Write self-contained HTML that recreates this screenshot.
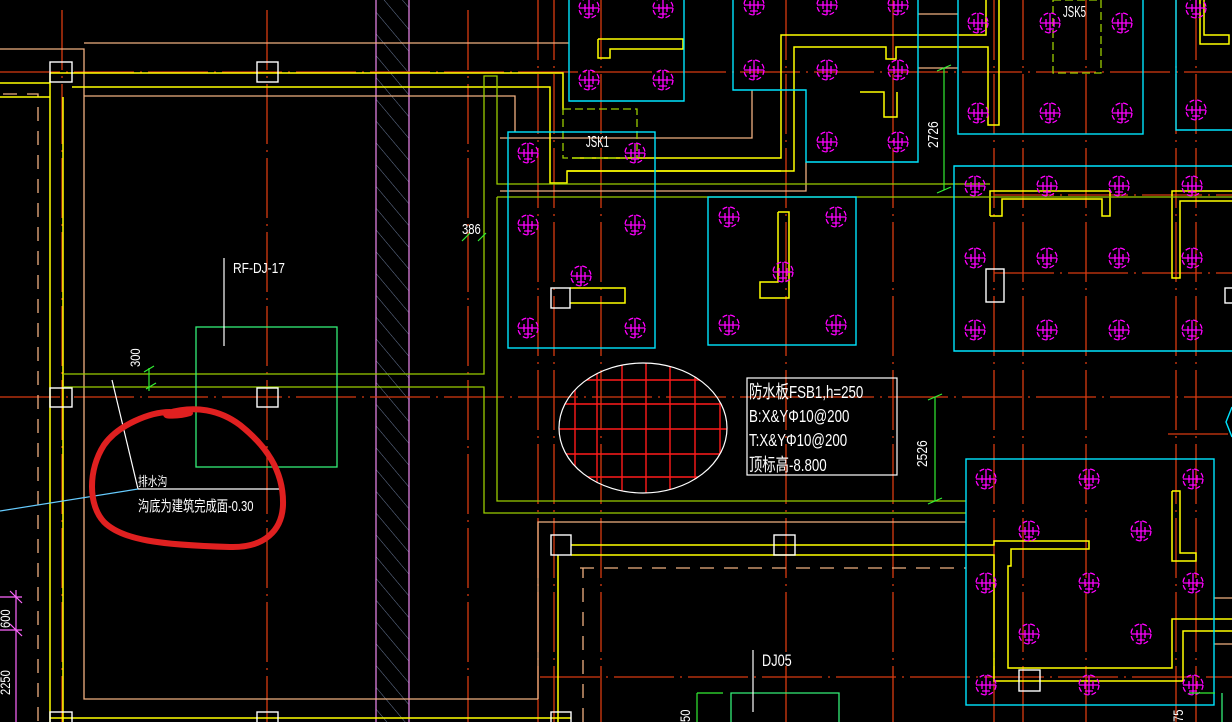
<!DOCTYPE html>
<html><head><meta charset="utf-8"><style>
html,body{margin:0;padding:0;background:#000;width:1232px;height:722px;overflow:hidden}
svg{display:block}
text{font-family:"Liberation Sans","Noto Sans CJK SC",sans-serif;fill:#fff}
</style></head><body>
<svg width="1232" height="722" viewBox="0 0 1232 722" xmlns="http://www.w3.org/2000/svg">
<defs>
<g id="p" fill="none" stroke="#ff00ff" stroke-width="1.3">
<circle r="10" stroke-dasharray="5 3"/>
<path d="M-10 0H10M0 -10V10M-4 -4V4M4 -4V4M-4 6H4"/>
</g>
<pattern id="h" width="14" height="14" patternUnits="userSpaceOnUse" patternTransform="rotate(-40)">
<line x1="0" y1="0" x2="0" y2="14" stroke="#6a7a9a" stroke-width="1"/>
</pattern>
</defs>
<rect width="1232" height="722" fill="#000"/>

<rect x="376" y="0" width="33" height="722" fill="url(#h)"/>
<g stroke="#ee88ee" stroke-width="1.2"><line x1="376" y1="0" x2="376" y2="722"/><line x1="409" y1="0" x2="409" y2="722"/></g>

<g stroke="#d83a10" stroke-width="1.3" fill="none" stroke-dasharray="60 6 2 6">
<line x1="0" y1="72" x2="1232" y2="72"/>
<line x1="0" y1="397" x2="1232" y2="397"/>
<line x1="540" y1="677" x2="1232" y2="677"/>
<line x1="994" y1="195" x2="1232" y2="195"/>
<line x1="994" y1="273" x2="1232" y2="273"/>
<line x1="1168" y1="434" x2="1232" y2="434"/>
<line x1="62" y1="10" x2="62" y2="722"/>
<line x1="267" y1="10" x2="267" y2="722"/>
<line x1="468" y1="10" x2="468" y2="722"/>
<line x1="538" y1="0" x2="538" y2="722"/>
<line x1="554" y1="0" x2="554" y2="722"/>
<line x1="601" y1="0" x2="601" y2="722"/>
<line x1="786" y1="0" x2="786" y2="722"/>
<line x1="893" y1="0" x2="893" y2="722"/>
<line x1="994" y1="0" x2="994" y2="722"/>
<line x1="1023" y1="0" x2="1023" y2="722"/>
<line x1="1086" y1="0" x2="1086" y2="722"/>
<line x1="1176" y1="0" x2="1176" y2="722"/>
<line x1="1196" y1="0" x2="1196" y2="722"/>
</g>

<g stroke="#f0b080" stroke-width="1.3" fill="none">
<polyline points="0,49 84,49 84,699 538,699"/>
<line x1="84" y1="43" x2="569" y2="43"/>
<polyline points="84,96 515,96 515,132"/>
<polyline points="538,699 538,522 966,522"/>
<polyline points="500,138 752,138 752,90"/>
<polyline points="500,191 806,191 806,162"/>
<line x1="918" y1="14" x2="958" y2="14"/>
<line x1="918" y1="68" x2="958" y2="68"/>
<line x1="1214" y1="598" x2="1232" y2="598"/>
<line x1="1214" y1="644" x2="1232" y2="644"/>
</g>
<g stroke="#f0b080" stroke-width="1.3" fill="none" stroke-dasharray="14 10">
<polyline points="3,94 38,94 38,722"/>
<polyline points="580,568 966,568"/>
<polyline points="583,722 583,568"/>
</g>

<g stroke="#ffff00" stroke-width="1.5" fill="none">
<line x1="0" y1="83" x2="50" y2="83"/><line x1="0" y1="97" x2="50" y2="97"/>
<polyline points="50,73 563,73 563,110"/>
<polyline points="72,87 550,87 550,183 567,183 567,171 781,171"/>
<line x1="50" y1="73" x2="50" y2="722"/><line x1="63" y1="97" x2="63" y2="722"/>
<polyline points="572,158 781,158 781,35 986,35 986,0"/>
<polyline points="567,171 794,171 794,47 886,47 886,59 896,59 896,47 988,47 988,125 999,125 999,0"/>
<polyline points="598,39 683,39 683,49 610,49 610,58 598,58 598,39"/>
<polyline points="860,92 884,92 884,117 897,117 897,92"/>
<polyline points="1204,0 1204,35 1229,35 1229,44 1200,44 1200,0"/>
<polyline points="570,288 625,288 625,303 570,303"/>
<polyline points="778,212 789,212 789,298 760,298 760,282 778,282 778,212"/>
<polyline points="990,216 990,191 1110,191 1110,216 1102,216 1102,199 1002,199 1002,216 990,216"/>
<polyline points="1232,191 1172,191 1172,278 1180,278 1180,201 1232,201"/>
<polyline points="571,545 994,545 994,541 1089,541 1089,549 1011,549 1011,566 1008,566 1008,668 1172,668 1172,619 1232,619"/>
<polyline points="571,555 994,555 994,681 1183,681 1183,631 1232,631"/>
<polyline points="1172,491 1180,491 1180,553 1196,553 1196,561 1172,561 1172,491"/>
<line x1="558" y1="555" x2="558" y2="722"/>
<line x1="50" y1="718" x2="571" y2="718"/>
</g>

<g stroke="#99cc00" stroke-width="1.3" fill="none">
<polyline points="63,374 484,374 484,76 497,76 497,184 990,184"/>
<polyline points="63,387 484,387 484,513 966,513"/>
<polyline points="497,197 1232,197"/>
<polyline points="497,197 497,501 966,501"/>
</g>
<g stroke="#99cc00" stroke-width="1.3" fill="none" stroke-dasharray="8 4">
<rect x="563" y="109" width="74" height="49"/>
<rect x="1053" y="0" width="48" height="73"/>
</g>

<g stroke="#00e5ff" stroke-width="1.4" fill="none">
<rect x="508" y="132" width="147" height="216"/>
<polyline points="569,0 569,101 684,101 684,0"/>
<polyline points="733,0 733,90 806,90 806,162 918,162 918,0"/>
<rect x="958" y="-2" width="185" height="136"/>
<polyline points="1176,0 1176,130 1232,130"/>
<rect x="708" y="197" width="148" height="148"/>
<polyline points="1232,166 954,166 954,351 1232,351"/>
<rect x="966" y="459" width="248" height="246"/>
<polyline points="1232,407 1226,422 1232,437"/>
</g>

<g stroke="#33ee77" stroke-width="1.3" fill="none">
<rect x="196" y="327" width="141" height="140"/>
<polyline points="731,722 731,693 839,693 839,722"/>
<line x1="1222" y1="693" x2="1222" y2="722"/>
</g>

<g stroke="#fff" stroke-width="1.4" fill="none">
<rect x="50" y="62" width="22" height="20"/><rect x="257" y="62" width="21" height="20"/>
<rect x="50" y="388" width="22" height="19"/><rect x="257" y="388" width="21" height="19"/>
<rect x="50" y="712" width="22" height="14"/><rect x="257" y="712" width="21" height="14"/>
<rect x="551" y="712" width="20" height="14"/>
<rect x="551" y="288" width="19" height="20"/>
<rect x="551" y="535" width="20" height="20"/><rect x="774" y="535" width="21" height="20"/>
<rect x="1019" y="670" width="21" height="21"/>
<rect x="986" y="269" width="18" height="33"/>
<rect x="1225" y="288" width="10" height="15"/>
</g>

<g>
<use href="#p" x="589" y="8"/><use href="#p" x="589" y="80"/>
<use href="#p" x="663" y="8"/><use href="#p" x="663" y="80"/>
<use href="#p" x="754" y="5"/><use href="#p" x="827" y="5"/><use href="#p" x="898" y="5"/>
<use href="#p" x="754" y="70"/><use href="#p" x="827" y="70"/><use href="#p" x="898" y="70"/>
<use href="#p" x="827" y="142"/><use href="#p" x="898" y="142"/>
<use href="#p" x="528" y="153"/><use href="#p" x="635" y="153"/>
<use href="#p" x="528" y="225"/><use href="#p" x="635" y="225"/><use href="#p" x="581" y="276"/>
<use href="#p" x="528" y="328"/><use href="#p" x="635" y="328"/>
<use href="#p" x="729" y="217"/><use href="#p" x="836" y="217"/><use href="#p" x="783" y="272"/>
<use href="#p" x="729" y="325"/><use href="#p" x="836" y="325"/>
<use href="#p" x="978" y="23"/><use href="#p" x="1050" y="23"/><use href="#p" x="1122" y="23"/>
<use href="#p" x="978" y="113"/><use href="#p" x="1050" y="113"/><use href="#p" x="1122" y="113"/>
<use href="#p" x="1196" y="8"/><use href="#p" x="1196" y="110"/>
<use href="#p" x="975" y="186"/><use href="#p" x="1047" y="186"/><use href="#p" x="1119" y="186"/><use href="#p" x="1192" y="186"/>
<use href="#p" x="975" y="258"/><use href="#p" x="1047" y="258"/><use href="#p" x="1119" y="258"/><use href="#p" x="1192" y="258"/>
<use href="#p" x="975" y="330"/><use href="#p" x="1047" y="330"/><use href="#p" x="1119" y="330"/><use href="#p" x="1192" y="330"/>
<use href="#p" x="986" y="479"/><use href="#p" x="1089" y="479"/><use href="#p" x="1193" y="479"/>
<use href="#p" x="1029" y="531"/><use href="#p" x="1141" y="531"/>
<use href="#p" x="986" y="583"/><use href="#p" x="1089" y="583"/><use href="#p" x="1193" y="583"/>
<use href="#p" x="1029" y="634"/><use href="#p" x="1141" y="634"/>
<use href="#p" x="986" y="685"/><use href="#p" x="1089" y="685"/><use href="#p" x="1193" y="685"/>
</g>

<clipPath id="ec"><ellipse cx="643" cy="428" rx="84" ry="65"/></clipPath>
<g clip-path="url(#ec)" stroke="#ff1a1a" stroke-width="1.4">
<line x1="575" y1="360" x2="575" y2="500"/><line x1="597" y1="360" x2="597" y2="500"/>
<line x1="622" y1="360" x2="622" y2="500"/><line x1="646" y1="360" x2="646" y2="500"/>
<line x1="670" y1="360" x2="670" y2="500"/><line x1="695" y1="360" x2="695" y2="500"/>
<line x1="720" y1="360" x2="720" y2="500"/>
<line x1="555" y1="380" x2="730" y2="380"/><line x1="555" y1="404" x2="730" y2="404"/>
<line x1="555" y1="429" x2="730" y2="429"/><line x1="555" y1="454" x2="730" y2="454"/>
<line x1="555" y1="477" x2="730" y2="477"/>
</g>
<ellipse cx="643" cy="428" rx="84" ry="65" fill="none" stroke="#fff" stroke-width="1.2"/>

<g stroke="#33ee33" stroke-width="1.2">
<line x1="944" y1="68" x2="944" y2="190"/><line x1="937" y1="71" x2="951" y2="65"/><line x1="937" y1="193" x2="951" y2="187"/>
<line x1="935" y1="397" x2="935" y2="501"/><line x1="928" y1="400" x2="942" y2="394"/><line x1="928" y1="504" x2="942" y2="498"/>
<line x1="462" y1="241" x2="470" y2="233"/><line x1="478" y1="241" x2="486" y2="233"/>
<line x1="144" y1="372" x2="154" y2="366"/><line x1="146" y1="389" x2="156" y2="383"/><line x1="149" y1="368" x2="149" y2="391"/>
<line x1="697" y1="693" x2="723" y2="693"/><line x1="697" y1="693" x2="697" y2="722"/>
<line x1="1189" y1="693" x2="1215" y2="693"/>
</g>
<g stroke="#ff66ff" stroke-width="1.2">
<line x1="16" y1="590" x2="16" y2="722"/><line x1="0" y1="597" x2="22" y2="597"/><line x1="0" y1="630" x2="22" y2="630"/>
<line x1="10" y1="591" x2="22" y2="603"/><line x1="10" y1="624" x2="22" y2="636"/>
</g>

<g stroke="#fff" stroke-width="1.2">
<line x1="224" y1="258" x2="224" y2="346"/>
<line x1="112" y1="380" x2="138" y2="489"/>
<line x1="138" y1="489" x2="284" y2="489"/>
<line x1="753" y1="650" x2="753" y2="712"/>
</g>
<line x1="0" y1="511" x2="138" y2="489" stroke="#66ccff" stroke-width="1.2"/>
<rect x="747" y="378" width="150" height="97" fill="none" stroke="#fff" stroke-width="1.2"/>

<g font-size="15">
<text x="233" y="273" transform="translate(233 0) scale(0.8 1) translate(-233 0)">RF-DJ-17</text>
<text x="586" y="147" font-size="16" transform="translate(586 0) scale(0.6 1) translate(-586 0)">JSK1</text>
<text x="1063" y="17" font-size="16" transform="translate(1063 0) scale(0.6 1) translate(-1063 0)">JSK5</text>
<text x="462" y="234" transform="translate(462 0) scale(0.75 1) translate(-462 0)">386</text>
<text x="762" y="666" font-size="17" transform="translate(762 0) scale(0.75 1) translate(-762 0)">DJ05</text>
<text x="138" y="486" font-size="13" transform="translate(138 0) scale(0.75 1) translate(-138 0)">排水沟</text>
<text x="138" y="511" font-size="15" transform="translate(138 0) scale(0.75 1) translate(-138 0)">沟底为建筑完成面-0.30</text>
<g font-size="18">
<text x="749" y="398" transform="translate(749 0) scale(0.74 1) translate(-749 0)">防水板FSB1,h=250</text>
<text x="749" y="422" transform="translate(749 0) scale(0.74 1) translate(-749 0)">B:X&amp;YΦ10@200</text>
<text x="749" y="446" transform="translate(749 0) scale(0.74 1) translate(-749 0)">T:X&amp;YΦ10@200</text>
<text x="749" y="471" transform="translate(749 0) scale(0.74 1) translate(-749 0)">顶标高-8.800</text>
</g>
<text transform="translate(938 148) rotate(-90) scale(0.8 1)" font-size="15">2726</text>
<text transform="translate(927 467) rotate(-90) scale(0.8 1)" font-size="15">2526</text>
<text transform="translate(140 367) rotate(-90) scale(0.8 1)" font-size="14">300</text>
<text transform="translate(10 628) rotate(-90) scale(0.8 1)" font-size="14">600</text>
<text transform="translate(10 695) rotate(-90) scale(0.8 1)" font-size="14">2250</text>
<text transform="translate(690 722) rotate(-90) scale(0.8 1)" font-size="14">50</text>
<text transform="translate(1183 722) rotate(-90) scale(0.8 1)" font-size="14">75</text>
</g>

<path d="M170,412 C150,412 118,425 104,445 C88,470 88,505 104,522 C122,540 160,545 230,547 C265,548 282,530 283,505 C284,470 265,445 240,425 C220,410 195,405 168,413 C160,417 180,416 190,413" fill="none" stroke="#e02020" stroke-width="6" stroke-linecap="round"/>
</svg>
</body></html>
